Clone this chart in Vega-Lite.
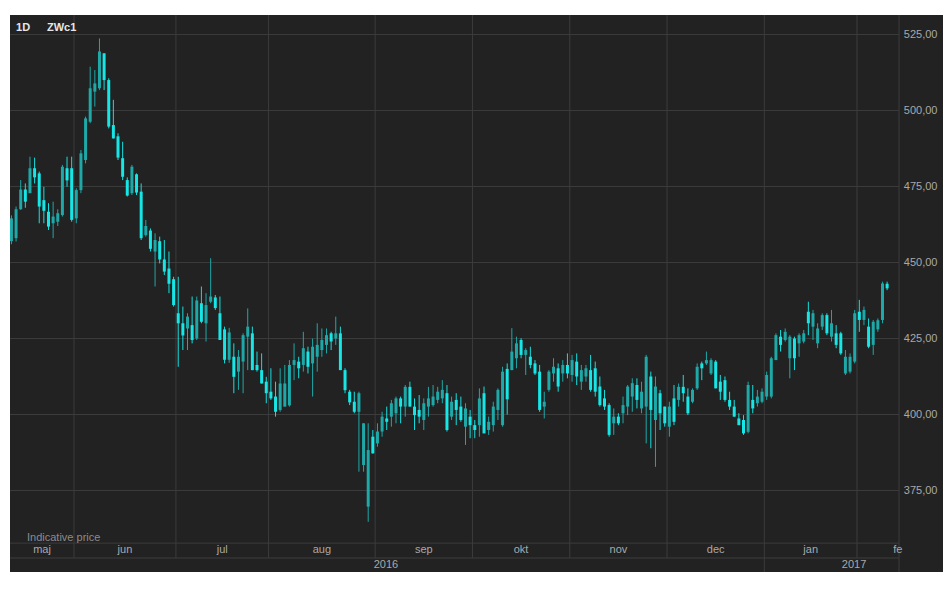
{
  "$schema": "https://vega.github.io/schema/vega-lite/v6.json",
  "width": 933,
  "height": 557,
  "autosize": {"type": "none"},
  "padding": {"left": 10, "top": 15, "right": 5, "bottom": 21},
  "background": "white",
  "config": {"view": {"fill": "#222222", "stroke": null}, "font": "Liberation Sans"},
  "datasets": {
    "candles": [
      {"i":0,"o":457,"h":465.5,"l":456,"c":464.5},
      {"i":1,"o":458,"h":468.4,"l":456.9,"c":467.5},
      {"i":2,"o":467.5,"h":477.1,"l":467.3,"c":474},
      {"i":3,"o":474,"h":476,"l":468,"c":470},
      {"i":4,"o":472.8,"h":484.8,"l":472.8,"c":481},
      {"i":5,"o":481,"h":484.5,"l":476,"c":478},
      {"i":6,"o":479.3,"h":479.9,"l":462.9,"c":468.4},
      {"i":7,"o":470.5,"h":474.9,"l":462.9,"c":467},
      {"i":8,"o":466.7,"h":469.5,"l":460.7,"c":461.8},
      {"i":9,"o":462.9,"h":470,"l":458,"c":465.1},
      {"i":10,"o":463.4,"h":467.5,"l":462,"c":466.2},
      {"i":11,"o":465.6,"h":482.1,"l":465.1,"c":481.5},
      {"i":12,"o":481,"h":484.8,"l":474.9,"c":477},
      {"i":13,"o":481,"h":484.8,"l":463.4,"c":464},
      {"i":14,"o":464.5,"h":474.4,"l":462.9,"c":473.8},
      {"i":15,"o":473.8,"h":487,"l":472.8,"c":485.9},
      {"i":16,"o":483.7,"h":498,"l":482.6,"c":497.4},
      {"i":17,"o":496.3,"h":514.4,"l":495.8,"c":507.3},
      {"i":18,"o":506.2,"h":513.3,"l":501.3,"c":508.9},
      {"i":19,"o":507.3,"h":523.7,"l":506.7,"c":519.4},
      {"i":20,"o":518.8,"h":518.8,"l":506.7,"c":510},
      {"i":21,"o":510,"h":510.6,"l":494.1,"c":494.7},
      {"i":22,"o":495.2,"h":503.5,"l":490.8,"c":490.8},
      {"i":23,"o":491.5,"h":492.5,"l":483.7,"c":484.5},
      {"i":24,"o":484.3,"h":489.7,"l":477.1,"c":478.2},
      {"i":25,"o":477.1,"h":478,"l":471.7,"c":472},
      {"i":26,"o":472.8,"h":482.1,"l":472.2,"c":481.5},
      {"i":27,"o":479,"h":479.3,"l":472.2,"c":473},
      {"i":28,"o":473.3,"h":476,"l":457.4,"c":458},
      {"i":29,"o":459,"h":464,"l":458.5,"c":462},
      {"i":30,"o":460.5,"h":461.2,"l":453.6,"c":454.5},
      {"i":31,"o":453.6,"h":459.6,"l":442.1,"c":457.4},
      {"i":32,"o":457,"h":458.5,"l":449.7,"c":451},
      {"i":33,"o":451,"h":457.4,"l":445.9,"c":447},
      {"i":34,"o":448,"h":453.6,"l":439.9,"c":443},
      {"i":35,"o":444.5,"h":445.3,"l":435.5,"c":436},
      {"i":36,"o":433.3,"h":445.3,"l":415.7,"c":430},
      {"i":37,"o":430,"h":435.5,"l":421.2,"c":426},
      {"i":38,"o":428.3,"h":433.3,"l":421.2,"c":432.2},
      {"i":39,"o":429.4,"h":438.8,"l":423.4,"c":424.5},
      {"i":40,"o":425,"h":438.8,"l":424.5,"c":437.5},
      {"i":41,"o":436.6,"h":442.1,"l":430,"c":430.5},
      {"i":42,"o":430,"h":439.9,"l":424,"c":436},
      {"i":43,"o":437.1,"h":451.4,"l":436.6,"c":438.8},
      {"i":44,"o":438.5,"h":439.3,"l":434.4,"c":435},
      {"i":45,"o":433.3,"h":438.8,"l":424.5,"c":424.5},
      {"i":46,"o":428,"h":428.9,"l":416.8,"c":418},
      {"i":47,"o":418,"h":428.5,"l":417,"c":427},
      {"i":48,"o":419,"h":423.4,"l":407,"c":412.4},
      {"i":49,"o":414.1,"h":421.2,"l":408.1,"c":419},
      {"i":50,"o":417.4,"h":426.7,"l":407,"c":426.1},
      {"i":51,"o":425.6,"h":434.9,"l":414.6,"c":428.9},
      {"i":52,"o":426.7,"h":428.9,"l":414.6,"c":414.6},
      {"i":53,"o":416.3,"h":420.7,"l":414.1,"c":414.6},
      {"i":54,"o":414.6,"h":420.1,"l":410.2,"c":410.2},
      {"i":55,"o":410.8,"h":412.4,"l":403.7,"c":407},
      {"i":56,"o":407.5,"h":415.2,"l":404.8,"c":405.3},
      {"i":57,"o":405.9,"h":410.8,"l":399.3,"c":400.9},
      {"i":58,"o":401.5,"h":415.2,"l":400.9,"c":410.2},
      {"i":59,"o":402.6,"h":416.3,"l":402.6,"c":410.2},
      {"i":60,"o":403,"h":417.9,"l":402.6,"c":416.3},
      {"i":61,"o":416.3,"h":423.4,"l":411.3,"c":417.9},
      {"i":62,"o":417.4,"h":419,"l":411.9,"c":415.2},
      {"i":63,"o":416.3,"h":427.2,"l":414.1,"c":421.8},
      {"i":64,"o":420.7,"h":422.3,"l":413.5,"c":415.7},
      {"i":65,"o":416.8,"h":425,"l":405.9,"c":422.3},
      {"i":66,"o":419,"h":430,"l":414.1,"c":422.9},
      {"i":67,"o":421.2,"h":428.3,"l":419,"c":424.5},
      {"i":68,"o":422.9,"h":428.3,"l":420.1,"c":426.1},
      {"i":69,"o":426.7,"h":427.2,"l":421.2,"c":424},
      {"i":70,"o":425,"h":432.2,"l":422.9,"c":426.7},
      {"i":71,"o":426.7,"h":428.9,"l":414.6,"c":414.6},
      {"i":72,"o":414.6,"h":415.2,"l":407,"c":408},
      {"i":73,"o":407.5,"h":408.1,"l":403.1,"c":404},
      {"i":74,"o":404.2,"h":407.5,"l":400.4,"c":400.9},
      {"i":75,"o":400.9,"h":407.5,"l":381.2,"c":407},
      {"i":76,"o":383.4,"h":397.1,"l":381.2,"c":397.1},
      {"i":77,"o":369.7,"h":397.1,"l":364.7,"c":388.3},
      {"i":78,"o":392.7,"h":394.9,"l":387.2,"c":387.2},
      {"i":79,"o":390.5,"h":397.1,"l":389.4,"c":394.4},
      {"i":80,"o":394.4,"h":400.9,"l":392.7,"c":399.3},
      {"i":81,"o":398.7,"h":402.6,"l":394.9,"c":397.6},
      {"i":82,"o":399.3,"h":404.8,"l":396,"c":403.7},
      {"i":83,"o":400.4,"h":405.9,"l":397.1,"c":405.3},
      {"i":84,"o":405.3,"h":405.9,"l":397.1,"c":402.6},
      {"i":85,"o":402.6,"h":409.7,"l":399.3,"c":409.1},
      {"i":86,"o":409.1,"h":410.8,"l":402.6,"c":402.6},
      {"i":87,"o":402.6,"h":405.3,"l":394.9,"c":399.8},
      {"i":88,"o":401.5,"h":406.4,"l":397.1,"c":399.3},
      {"i":89,"o":398.2,"h":405.3,"l":394.9,"c":403.7},
      {"i":90,"o":402.6,"h":409.1,"l":399.3,"c":405.3},
      {"i":91,"o":403.1,"h":409.7,"l":402.6,"c":405.9},
      {"i":92,"o":404.8,"h":409.1,"l":403.7,"c":407.5},
      {"i":93,"o":405.3,"h":411.3,"l":403.7,"c":408.1},
      {"i":94,"o":407,"h":409.7,"l":394.4,"c":394.9},
      {"i":95,"o":399.3,"h":405.9,"l":398.2,"c":404.2},
      {"i":96,"o":404.8,"h":407,"l":396.5,"c":401.5},
      {"i":97,"o":402.6,"h":405.9,"l":397.6,"c":398.2},
      {"i":98,"o":396,"h":403.7,"l":390,"c":402},
      {"i":99,"o":399.3,"h":401.5,"l":392.2,"c":396.5},
      {"i":100,"o":396.5,"h":398.2,"l":392.2,"c":394.9},
      {"i":101,"o":396.5,"h":408.6,"l":392.7,"c":405.3},
      {"i":102,"o":407,"h":409.2,"l":393.8,"c":393.8},
      {"i":103,"o":394.9,"h":399.3,"l":393.3,"c":397.6},
      {"i":104,"o":396.5,"h":404.2,"l":394.4,"c":402.6},
      {"i":105,"o":401.5,"h":408.6,"l":398.2,"c":408.1},
      {"i":106,"o":396.5,"h":415.7,"l":396,"c":414.1},
      {"i":107,"o":415,"h":416.8,"l":400,"c":405},
      {"i":108,"o":414.6,"h":428.4,"l":414.6,"c":420.7},
      {"i":109,"o":418.5,"h":425.6,"l":415.2,"c":423.4},
      {"i":110,"o":424.5,"h":425.1,"l":418.5,"c":419.6},
      {"i":111,"o":419.6,"h":421.8,"l":413,"c":421.2},
      {"i":112,"o":419,"h":422.3,"l":415.2,"c":416.3},
      {"i":113,"o":416.8,"h":417.9,"l":413,"c":413.5},
      {"i":114,"o":414.1,"h":416.3,"l":400.9,"c":401.5},
      {"i":115,"o":402.6,"h":407.5,"l":398.7,"c":404.2},
      {"i":116,"o":408.1,"h":414.6,"l":407.5,"c":414.1},
      {"i":117,"o":413.5,"h":418.5,"l":410.8,"c":415.7},
      {"i":118,"o":415.2,"h":416.8,"l":407.5,"c":409.2},
      {"i":119,"o":413.5,"h":417.9,"l":410.8,"c":416.3},
      {"i":120,"o":416.3,"h":420.1,"l":411.9,"c":413.5},
      {"i":121,"o":413,"h":419.6,"l":410.8,"c":417.9},
      {"i":122,"o":417.4,"h":420.1,"l":409.7,"c":412.5},
      {"i":123,"o":410.8,"h":416.3,"l":408.1,"c":414.6},
      {"i":124,"o":412.5,"h":416.3,"l":410.8,"c":415.2},
      {"i":125,"o":414.6,"h":419.6,"l":407.5,"c":408.1},
      {"i":126,"o":415.2,"h":417.4,"l":405.9,"c":407.5},
      {"i":127,"o":409.2,"h":412.5,"l":402.6,"c":403.1},
      {"i":128,"o":405.3,"h":408.1,"l":401.5,"c":402.6},
      {"i":129,"o":403.1,"h":403.7,"l":392.7,"c":393.3},
      {"i":130,"o":397.1,"h":402,"l":393.3,"c":399.3},
      {"i":131,"o":399.3,"h":400.4,"l":396.5,"c":397.1},
      {"i":132,"o":400.4,"h":405.9,"l":397.1,"c":403.1},
      {"i":133,"o":402.6,"h":409.7,"l":399.8,"c":409.2},
      {"i":134,"o":405.9,"h":411.9,"l":400.9,"c":410.3},
      {"i":135,"o":409.7,"h":411.9,"l":402,"c":404.8},
      {"i":136,"o":402,"h":410.8,"l":400.4,"c":407.5},
      {"i":137,"o":402.6,"h":419.6,"l":390.5,"c":419},
      {"i":138,"o":412.5,"h":414.1,"l":388.9,"c":401.5},
      {"i":139,"o":398.2,"h":412.5,"l":382.8,"c":409.2},
      {"i":140,"o":407,"h":408.1,"l":394.9,"c":400.4},
      {"i":141,"o":402.6,"h":402.6,"l":396,"c":397.1},
      {"i":142,"o":396,"h":404.2,"l":392.7,"c":402.6},
      {"i":143,"o":405.3,"h":409.7,"l":396.5,"c":397.6},
      {"i":144,"o":404.8,"h":410.2,"l":402.6,"c":409.1},
      {"i":145,"o":409.1,"h":413,"l":404.2,"c":407},
      {"i":146,"o":405.9,"h":408.6,"l":399.8,"c":400.4},
      {"i":147,"o":404.2,"h":408.6,"l":403.7,"c":408.1},
      {"i":148,"o":408.6,"h":416.8,"l":408.1,"c":415.7},
      {"i":149,"o":416.8,"h":417.4,"l":411.3,"c":415.2},
      {"i":150,"o":416.8,"h":420.7,"l":416.3,"c":417.9},
      {"i":151,"o":413.5,"h":418.5,"l":413,"c":417.9},
      {"i":152,"o":417.4,"h":417.9,"l":408.6,"c":408.6},
      {"i":153,"o":410.8,"h":413,"l":404.8,"c":407.5},
      {"i":154,"o":411.3,"h":412.5,"l":404.2,"c":404.8},
      {"i":155,"o":404.8,"h":407.5,"l":401.5,"c":402.6},
      {"i":156,"o":402.6,"h":404.8,"l":399.3,"c":399.3},
      {"i":157,"o":398.7,"h":400.4,"l":396.5,"c":396.5},
      {"i":158,"o":398.2,"h":399.8,"l":393.3,"c":393.8},
      {"i":159,"o":394.3,"h":410.8,"l":393.8,"c":409.7},
      {"i":160,"o":404.8,"h":409.7,"l":400.4,"c":402},
      {"i":161,"o":403.7,"h":408.1,"l":402.6,"c":405.9},
      {"i":162,"o":404.2,"h":408.6,"l":403.7,"c":407.5},
      {"i":163,"o":405.9,"h":414.1,"l":404.8,"c":413},
      {"i":164,"o":405.9,"h":419,"l":405.3,"c":418.5},
      {"i":165,"o":417.9,"h":426.7,"l":417.9,"c":426.1},
      {"i":166,"o":425.6,"h":427.8,"l":420.7,"c":422.9},
      {"i":167,"o":424.5,"h":428.3,"l":424,"c":427.2},
      {"i":168,"o":418.5,"h":426.1,"l":411.9,"c":425.6},
      {"i":169,"o":425,"h":425.6,"l":414.6,"c":418.5},
      {"i":170,"o":423.4,"h":426.7,"l":419,"c":426.1},
      {"i":171,"o":424,"h":427.8,"l":423.4,"c":426.7},
      {"i":172,"o":433.8,"h":437.1,"l":426.1,"c":430},
      {"i":173,"o":428.9,"h":434.4,"l":424.5,"c":433.3},
      {"i":174,"o":423.4,"h":430,"l":421.8,"c":428.3},
      {"i":175,"o":428.9,"h":433.3,"l":427.8,"c":432.7},
      {"i":176,"o":432.7,"h":433.3,"l":426.1,"c":426.7},
      {"i":177,"o":425.6,"h":434.4,"l":424,"c":430},
      {"i":178,"o":426.7,"h":429.4,"l":421.8,"c":422.9},
      {"i":179,"o":426.7,"h":427.2,"l":419.6,"c":420.1},
      {"i":180,"o":413.5,"h":421.2,"l":413,"c":419},
      {"i":181,"o":414.1,"h":420.1,"l":413.5,"c":419},
      {"i":182,"o":417.4,"h":434.4,"l":416.8,"c":433.3},
      {"i":183,"o":433.8,"h":437.7,"l":427.2,"c":431.1},
      {"i":184,"o":431.1,"h":435.5,"l":429.4,"c":434.4},
      {"i":185,"o":428.9,"h":431.6,"l":421.8,"c":422.3},
      {"i":186,"o":422.9,"h":431.1,"l":419.6,"c":430.5},
      {"i":187,"o":428,"h":431.6,"l":427.2,"c":431},
      {"i":188,"o":431.1,"h":443.7,"l":430,"c":443.1},
      {"i":189,"o":443,"h":443.7,"l":440.9,"c":441.5}
    ],
    "levels": [{"v":375},{"v":400},{"v":425},{"v":450},{"v":475},{"v":500},{"v":525}],
    "monthStarts": [{"b":13.5},{"b":35.5},{"b":55.5},{"b":78.5},{"b":99.5},{"b":120.5},{"b":141.5},{"b":182.5}],
    "fullLines": [{"b":162.5},{"b":191.57}],
    "months": [
      {"m":"maj","mid":6.6},{"m":"jun","mid":24.5},{"m":"jul","mid":45.5},{"m":"aug","mid":67},
      {"m":"sep","mid":89},{"m":"okt","mid":110},{"m":"nov","mid":131},{"m":"dec","mid":152},{"m":"jan","mid":172.5}
    ],
    "years": [{"yr":"2016","mid":80.84},{"yr":"2017","mid":181.86}]
  },
  "layer": [
    {
      "data": {"name": "levels"},
      "mark": {"type": "rule", "stroke": "#3c3c3c", "strokeWidth": 1},
      "encoding": {
        "y": {"field": "v", "type": "quantitative", "scale": {"domain": [348.2, 531.4], "nice": false, "zero": false},
              "axis": {"orient": "right", "values": [375, 400, 425, 450, 475, 500, 525], "labelExpr": "replace(format(datum.value, '.2f'), '.', ',')",
                       "ticks": false, "domain": false, "grid": false, "labelAlign": "right", "labelPadding": -6, "labelBaseline": "middle",
                       "labelColor": "#a9a9a9", "labelFontSize": 11, "labelFont": "Liberation Sans", "labelOverlap": false, "labelFlush": false, "title": null}},
        "x": {"datum": -0.31, "type": "quantitative", "scale": {"domain": [-0.31, 201.06], "nice": false, "zero": false}, "axis": null},
        "x2": {"datum": 191.57}
      }
    },
    {
      "data": {"values": [{"band": "month top"}]},
      "mark": {"type": "rule", "stroke": "#3c3c3c", "strokeWidth": 1},
      "encoding": {
        "y": {"datum": 357.7, "type": "quantitative"},
        "x": {"datum": -0.31, "type": "quantitative", "axis": null},
        "x2": {"datum": 191.57}
      }
    },
    {
      "data": {"values": [{"band": "year top"}]},
      "mark": {"type": "rule", "stroke": "#3c3c3c", "strokeWidth": 1},
      "encoding": {
        "y": {"datum": 352.8, "type": "quantitative"},
        "x": {"datum": -0.31, "type": "quantitative", "axis": null},
        "x2": {"datum": 191.57}
      }
    },
    {
      "data": {"name": "monthStarts"},
      "mark": {"type": "rule", "stroke": "#3c3c3c", "strokeWidth": 1},
      "encoding": {
        "x": {"field": "b", "type": "quantitative", "axis": null},
        "y": {"datum": 531.4, "type": "quantitative"},
        "y2": {"datum": 352.8}
      }
    },
    {
      "data": {"name": "fullLines"},
      "mark": {"type": "rule", "stroke": "#3c3c3c", "strokeWidth": 1},
      "encoding": {
        "x": {"field": "b", "type": "quantitative", "axis": null},
        "y": {"datum": 531.4, "type": "quantitative"},
        "y2": {"datum": 348.2}
      }
    },
    {
      "data": {"name": "candles"},
      "mark": {"type": "rule", "strokeWidth": 1},
      "encoding": {
        "x": {"field": "i", "type": "quantitative", "axis": null},
        "y": {"field": "l", "type": "quantitative"},
        "y2": {"field": "h"},
        "color": {"condition": {"test": "datum.c >= datum.o", "value": "#1ea8a8"}, "value": "#16dede"}
      }
    },
    {
      "data": {"name": "candles"},
      "mark": {"type": "rule", "strokeWidth": 3, "strokeCap": "butt"},
      "encoding": {
        "x": {"field": "i", "type": "quantitative", "axis": null},
        "y": {"field": "o", "type": "quantitative"},
        "y2": {"field": "c"},
        "color": {"condition": {"test": "datum.c >= datum.o", "value": "#1ea8a8"}, "value": "#16e6e6"}
      }
    },
    {
      "data": {"name": "months"},
      "mark": {"type": "text", "fontSize": 11, "font": "Liberation Sans", "color": "#a9a9a9", "align": "center", "baseline": "middle"},
      "encoding": {
        "x": {"field": "mid", "type": "quantitative", "axis": null},
        "y": {"datum": 355.3, "type": "quantitative"},
        "text": {"field": "m"}
      }
    },
    {
      "data": {"values": [{"m": "fe"}]},
      "mark": {"type": "text", "fontSize": 11, "font": "Liberation Sans", "color": "#a9a9a9", "align": "left", "baseline": "middle"},
      "encoding": {
        "x": {"datum": 190.3, "type": "quantitative", "axis": null},
        "y": {"datum": 355.3, "type": "quantitative"},
        "text": {"field": "m"}
      }
    },
    {
      "data": {"name": "years"},
      "mark": {"type": "text", "fontSize": 11, "font": "Liberation Sans", "color": "#a9a9a9", "align": "center", "baseline": "middle"},
      "encoding": {
        "x": {"field": "mid", "type": "quantitative", "axis": null},
        "y": {"datum": 350.5, "type": "quantitative"},
        "text": {"field": "yr"}
      }
    },
    {
      "data": {"values": [{"t": "Indicative price"}]},
      "mark": {"type": "text", "fontSize": 11, "font": "Liberation Sans", "color": "#8c8c8c", "align": "left", "baseline": "middle"},
      "encoding": {
        "x": {"datum": 3.36, "type": "quantitative", "axis": null},
        "y": {"datum": 359.5, "type": "quantitative"},
        "text": {"field": "t"}
      }
    },
    {
      "data": {"values": [{"t": "1D", "p": 1.0}, {"t": "ZWc1", "p": 7.67}]},
      "mark": {"type": "text", "fontSize": 11, "font": "Liberation Sans", "fontWeight": "bold", "color": "#e6e6e6", "align": "left", "baseline": "middle"},
      "encoding": {
        "x": {"field": "p", "type": "quantitative", "axis": null},
        "y": {"datum": 527.1, "type": "quantitative"},
        "text": {"field": "t"}
      }
    }
  ]
}
